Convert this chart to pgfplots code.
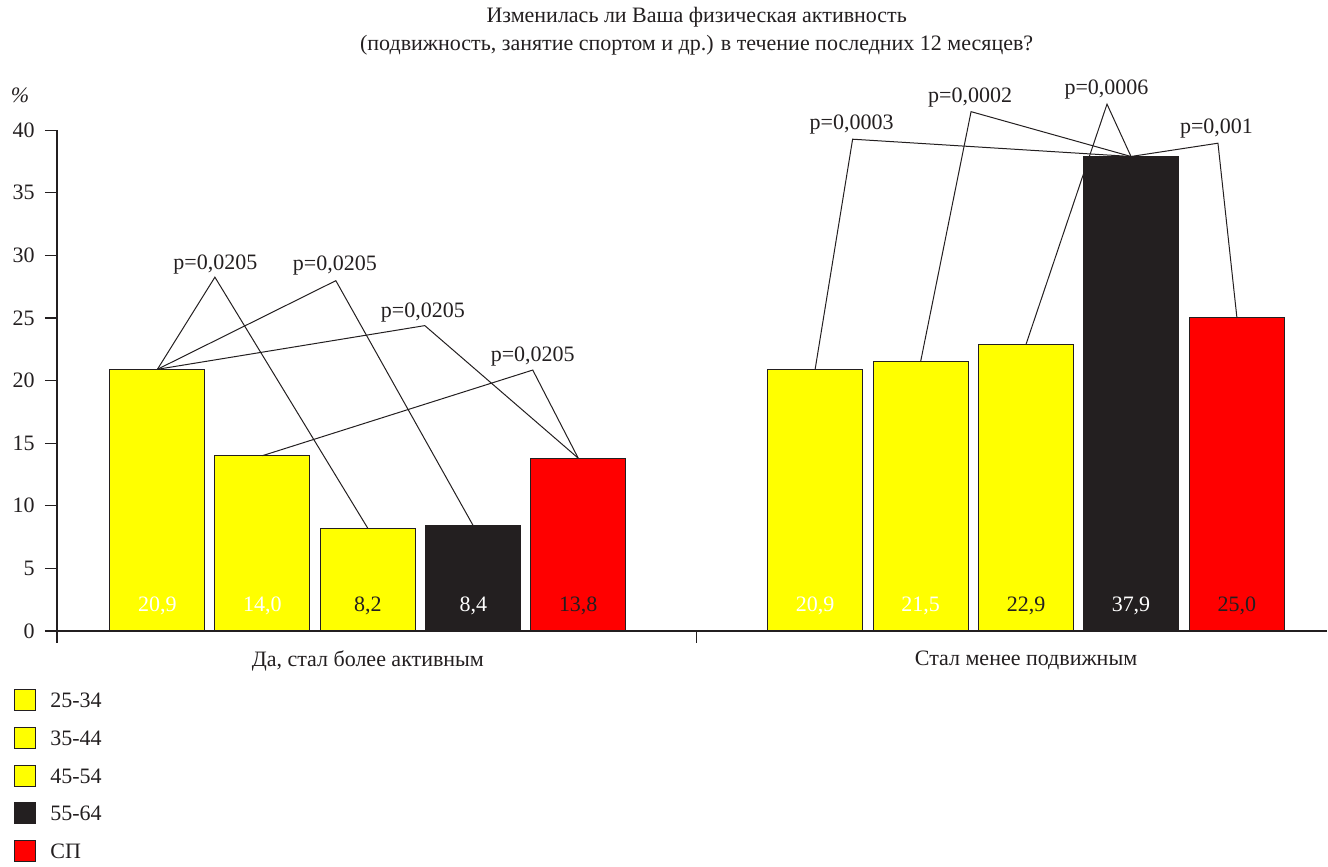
\documentclass[border=0pt]{standalone}
\usepackage{pgfplots}
\pgfplotsset{compat=1.18}
\usepackage{fontspec}
\setmainfont{Liberation Serif}
\definecolor{barblack}{HTML}{231F20}
\definecolor{baryellow}{HTML}{FFFF00}
\definecolor{barred}{HTML}{FF0000}
\definecolor{txt}{HTML}{231F20}
\begin{document}
\fontsize{11pt}{13pt}\selectfont
\begin{tikzpicture}
\begin{axis}[
  x=0.5pt, y=6.2625pt,
  xmin=57, xmax=1328, ymin=0, ymax=40,
  axis x line*=bottom, axis y line*=left,
  axis line style={-, draw=txt, line width=0.6pt},
  tick style={draw=txt, line width=0.6pt},
  tick align=outside,
  major tick length=6pt,
  ytick={0,5,...,40},
  xtick={57,697}, xticklabels={},
  ybar, bar width=95,
  clip=false,
  /pgf/number format/assume math mode=true,
  ticklabel style={font=\fontsize{11pt}{13pt}\selectfont, text=txt},
  yticklabel style={xshift=-1.3pt},
  legend style={draw=none, fill=none, at={(axis cs:14,-4.6)}, anchor=north west,
    inner sep=0pt, font=\fontsize{11pt}{13pt}\selectfont, text=txt,
    row sep=6pt, /tikz/column 1/.style={column sep=5pt}},
  legend cell align=left,
  legend image code/.code={\draw[#1, line width=0.5pt] (0pt,-4.3pt) rectangle (10.5pt,6.2pt);},
]
\addplot[bar shift=0pt, fill=baryellow, draw=txt, line width=0.5pt] coordinates {(157.5,20.9) (815.5,20.9)};
\addlegendentry{25-34}
\addplot[bar shift=0pt, fill=baryellow, draw=txt, line width=0.5pt] coordinates {(262.5,14.0) (921,21.5)};
\addlegendentry{35-44}
\addplot[bar shift=0pt, fill=baryellow, draw=txt, line width=0.5pt] coordinates {(368,8.2) (1026.5,22.9)};
\addlegendentry{45-54}
\addplot[bar shift=0pt, fill=barblack, draw=txt, line width=0.5pt] coordinates {(473.5,8.4) (1131.5,37.9)};
\addlegendentry{55-64}
\addplot[bar shift=0pt, fill=barred, draw=txt, line width=0.5pt] coordinates {(578.5,13.8) (1237.5,25.0)};
\addlegendentry{СП}

% value labels
\node[text=white] at (axis cs:157.5,2.0) {20,9};
\node[text=white] at (axis cs:262.5,2.0) {14,0};
\node[text=txt] at (axis cs:368,2.0) {8,2};
\node[text=white] at (axis cs:473.5,2.0) {8,4};
\node[text=txt] at (axis cs:578.5,2.0) {13,8};
\node[text=white] at (axis cs:815.5,2.0) {20,9};
\node[text=white] at (axis cs:921,2.0) {21,5};
\node[text=txt] at (axis cs:1026.5,2.0) {22,9};
\node[text=white] at (axis cs:1131.5,2.0) {37,9};
\node[text=txt] at (axis cs:1237.5,2.0) {25,0};

% p-value connectors
\draw[txt, line width=0.5pt] (axis cs:157.5,20.9) -- (axis cs:215,28.26) -- (axis cs:368,8.2);
\draw[txt, line width=0.5pt] (axis cs:157.5,20.9) -- (axis cs:336,27.98) -- (axis cs:473.5,8.4);
\draw[txt, line width=0.5pt] (axis cs:157.5,20.9) -- (axis cs:425,24.39) -- (axis cs:578.5,13.8);
\draw[txt, line width=0.5pt] (axis cs:262.5,14.0) -- (axis cs:533,20.84) -- (axis cs:578.5,13.8);
\draw[txt, line width=0.5pt] (axis cs:815.5,20.9) -- (axis cs:853,39.28) -- (axis cs:1131.5,37.9);
\draw[txt, line width=0.5pt] (axis cs:921,21.5) -- (axis cs:971.5,41.48) -- (axis cs:1131.5,37.9);
\draw[txt, line width=0.5pt] (axis cs:1026.5,22.9) -- (axis cs:1107.5,42.08) -- (axis cs:1131.5,37.9);
\draw[txt, line width=0.5pt] (axis cs:1131.5,37.9) -- (axis cs:1218.5,38.96) -- (axis cs:1237.5,25.0);

\node[text=txt, inner sep=0pt] at (axis cs:215.5,29.3) {p=0,0205};
\node[text=txt, inner sep=0pt] at (axis cs:335,29.22) {p=0,0205};
\node[text=txt, inner sep=0pt] at (axis cs:423,25.43) {p=0,0205};
\node[text=txt, inner sep=0pt] at (axis cs:533,21.92) {p=0,0205};
\node[text=txt, inner sep=0pt] at (axis cs:852,40.48) {p=0,0003};
\node[text=txt, inner sep=0pt] at (axis cs:970.5,42.63) {p=0,0002};
\node[text=txt, inner sep=0pt] at (axis cs:1107,43.27) {p=0,0006};
\node[text=txt, inner sep=0pt] at (axis cs:1217,40.12) {p=0,001};

% category labels
\node[text=txt] at (axis cs:368,-2.37) {Да, стал более активным};
\node[text=txt] at (axis cs:1026.5,-2.37) {Стал менее подвижным};

% percent sign
\node[text=txt] at (axis cs:20,42.8) {\textit{\%}};

% title
\node[text=txt, align=center, font=\fontsize{11pt}{14pt}\selectfont] at (axis cs:697,47.9)
  {Изменилась ли Ваша физическая активность\\(подвижность, занятие спортом и др.) в течение последних 12 месяцев?};

% canvas
\path (axis cs:0,50.38) rectangle (axis cs:1328,-18.36);
\end{axis}
\end{tikzpicture}
\end{document}
